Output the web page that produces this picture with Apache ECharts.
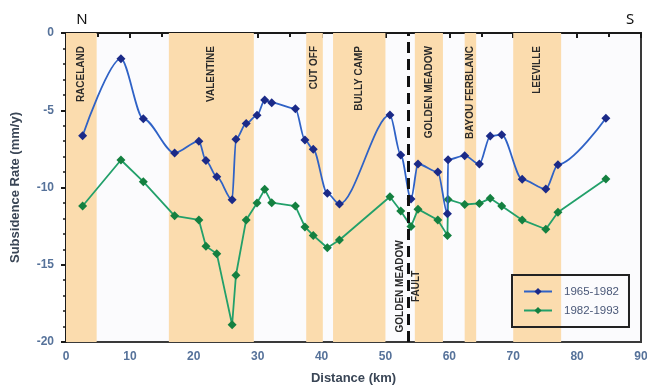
<!DOCTYPE html>
<html>
<head>
<meta charset="utf-8">
<script src="https://cdn.jsdelivr.net/npm/echarts@6/dist/echarts.min.js"></script>
<style>
  html, body { margin: 0; padding: 0; background: #ffffff; }
  #chart { width: 647px; height: 385px; }
</style>
</head>
<body>
<div id="chart"></div>
<script>
// Survey stations along the N–S transect (km)
const distanceKm = [2.6, 8.6, 12.1, 17.0, 20.8, 21.9, 23.6, 26.0, 26.6, 28.2, 29.9, 31.1, 32.2, 35.9, 37.4, 38.7, 40.9, 42.8, 50.7, 52.4, 54.0, 55.1, 58.2, 59.7, 59.8, 62.4, 64.7, 66.4, 68.2, 71.4, 75.1, 77.0, 84.5];

// Subsidence rate (mm/y) for each period
const rate1965to1982 = [-6.65, -1.66, -5.55, -7.77, -7.0, -8.26, -9.3, -10.8, -6.88, -5.85, -5.33, -4.34, -4.51, -4.9, -6.93, -7.53, -10.38, -11.07, -5.3, -7.9, -10.75, -8.48, -9.0, -11.7, -8.2, -7.94, -8.48, -6.67, -6.58, -9.47, -10.1, -8.52, -5.52];
const rate1982to1993 = [-11.2, -8.22, -9.62, -11.83, -12.1, -13.8, -14.28, -18.88, -15.68, -12.1, -11.0, -10.12, -10.98, -11.2, -12.55, -13.1, -13.9, -13.4, -10.6, -11.52, -12.53, -11.4, -12.1, -13.1, -10.77, -11.1, -11.03, -10.7, -11.2, -12.1, -12.7, -11.6, -9.45];

const seriesNames = ['1965-1982', '1982-1993'];

// Oil & gas fields crossed by the transect
const fieldNames = ['RACELAND', 'VALENTINE', 'CUT OFF', 'BULLY CAMP', 'GOLDEN MEADOW', 'BAYOU FERBLANC', 'LEEVILLE'];
const fieldStartKm = [0, 16.1, 37.6, 41.8, 54.6, 62.4, 70.0];
const fieldEndKm = [4.8, 29.4, 40.2, 50.0, 59.0, 64.2, 77.5];

// Golden Meadow fault position (km)
const faultKm = 53.6;

const xTicks = { min: 0, max: 90, interval: 10 };
const yTicks = { min: -20, max: 0, interval: 5 };

const chart = echarts.init(document.getElementById('chart'), null, { renderer: 'canvas' });

const pairs = (ys) => distanceKm.map((x, i) => [x, ys[i]]);

const tickLabelStyle = {
  color: '#56729a',
  fontFamily: 'Liberation Sans',
  fontWeight: 'bold',
  fontSize: 12
};
const axisNameStyle = {
  color: '#3a4656',
  fontFamily: 'Liberation Sans',
  fontWeight: 'bold',
  fontSize: 13
};

const option = {
  animation: false,
  backgroundColor: '#ffffff',
  grid: {
    left: 66, right: 6, top: 33, bottom: 43,
    outerBoundsMode: 'none',
    containLabel: false,
    show: true,
    backgroundColor: '#fbfbfd',
    borderColor: '#3a3a3a',
    borderWidth: 2
  },
  xAxis: {
    type: 'value',
    min: xTicks.min, max: xTicks.max, interval: xTicks.interval,
    name: 'Distance (km)',
    nameLocation: 'middle',
    nameGap: 30,
    nameTextStyle: axisNameStyle,
    axisLine: { show: true, lineStyle: { color: '#1a1a1a', width: 2 } },
    axisTick: { show: true, length: 5, lineStyle: { color: '#1a1a1a', width: 2 } },
    minorTick: { show: true, splitNumber: 2, length: 4, lineStyle: { color: '#1a1a1a', width: 2 } },
    axisLabel: Object.assign({ margin: 9 }, tickLabelStyle),
    splitLine: { show: false }
  },
  yAxis: {
    type: 'value',
    min: yTicks.min, max: yTicks.max, interval: yTicks.interval,
    name: 'Subsidence Rate (mm/y)',
    nameLocation: 'middle',
    nameGap: 44,
    nameTextStyle: axisNameStyle,
    axisLine: { show: true, lineStyle: { color: '#1a1a1a', width: 2 } },
    axisTick: { show: true, length: 5, lineStyle: { color: '#1a1a1a', width: 2 } },
    minorTick: { show: true, splitNumber: 5, length: 3, lineStyle: { color: '#1a1a1a', width: 1.5 } },
    axisLabel: Object.assign({ margin: 12 }, tickLabelStyle),
    splitLine: { show: false }
  },
  legend: {
    data: seriesNames,
    orient: 'vertical',
    left: 512, top: 275,
    padding: [10, 10, 10, 11],
    itemGap: 6,
    itemWidth: 28,
    itemHeight: 9,
    backgroundColor: 'rgba(0,0,0,0)',
    borderColor: '#222222',
    borderWidth: 2,
    borderRadius: 0,
    textStyle: {
      color: '#4a5878',
      fontFamily: 'Liberation Sans',
      fontSize: 11.5,
      lineHeight: 13,
      padding: [0, 0, 0, 7]
    }
  },
  series: [
    {
      // field bands and the fault line
      name: 'fields',
      type: 'line',
      data: [],
      silent: true,
      z: 1,
      markArea: {
        silent: true,
        itemStyle: { color: '#fbdcae' },
        data: fieldNames.map((n, i) => [{ xAxis: fieldStartKm[i] }, { xAxis: fieldEndKm[i] }])
      },
      markLine: {
        silent: true,
        symbol: ['none', 'none'],
        label: { show: false },
        lineStyle: { color: '#111111', type: [11, 6], width: 3 },
        data: [{ xAxis: faultKm }]
      }
    },
    {
      name: seriesNames[0],
      type: 'line',
      z: 4,
      data: pairs(rate1965to1982),
      smooth: 0.3,
      smoothMonotone: 'x',
      symbol: 'diamond',
      symbolSize: 9,
      lineStyle: { color: '#2f62c6', width: 1.8 },
      itemStyle: { color: '#1b2a88' }
    },
    {
      name: seriesNames[1],
      type: 'line',
      z: 3,
      data: pairs(rate1982to1993),
      symbol: 'diamond',
      symbolSize: 9,
      lineStyle: { color: '#22a06a', width: 1.8 },
      itemStyle: { color: '#148040' }
    }
  ]
};

chart.setOption(option);

// Field names written vertically near the top of each band, plus fault caption and compass letters
const labelFont = { fontFamily: 'Liberation Sans', fontWeight: 'bold', fontSize: 10 };
const topPx = chart.convertToPixel({ gridIndex: 0 }, [0, 0])[1];
const graphics = fieldNames.map((name, i) => {
  const cx = chart.convertToPixel({ gridIndex: 0 }, [(fieldStartKm[i] + fieldEndKm[i]) / 2, 0])[0];
  return {
    type: 'text',
    x: cx, y: topPx + 13,
    rotation: Math.PI / 2,
    silent: true,
    z: 10,
    style: Object.assign({ text: name, fill: '#2a2a2a', align: 'right', verticalAlign: 'middle' }, labelFont)
  };
});

const faultPx = chart.convertToPixel({ gridIndex: 0 }, [faultKm, -16.4]);
graphics.push({
  type: 'text', x: faultPx[0] - 8, y: faultPx[1], rotation: Math.PI / 2, silent: true, z: 10,
  style: Object.assign({ text: 'GOLDEN MEADOW', fill: '#2a2a2a', align: 'center', verticalAlign: 'middle' }, labelFont)
});
graphics.push({
  type: 'text', x: faultPx[0] + 8, y: faultPx[1], rotation: Math.PI / 2, silent: true, z: 10,
  style: Object.assign({ text: 'FAULT', fill: '#2a2a2a', align: 'center', verticalAlign: 'middle' }, labelFont)
});
graphics.push({
  type: 'text', x: 82, y: 20, silent: true,
  style: { text: 'N', fill: '#111111', fontFamily: 'Noto Sans', fontSize: 15, align: 'center', verticalAlign: 'middle' }
});
graphics.push({
  type: 'text', x: 630, y: 20, silent: true,
  style: { text: 'S', fill: '#111111', fontFamily: 'Noto Sans', fontSize: 15, align: 'center', verticalAlign: 'middle' }
});

chart.setOption({ graphic: graphics });
</script>
</body>
</html>
